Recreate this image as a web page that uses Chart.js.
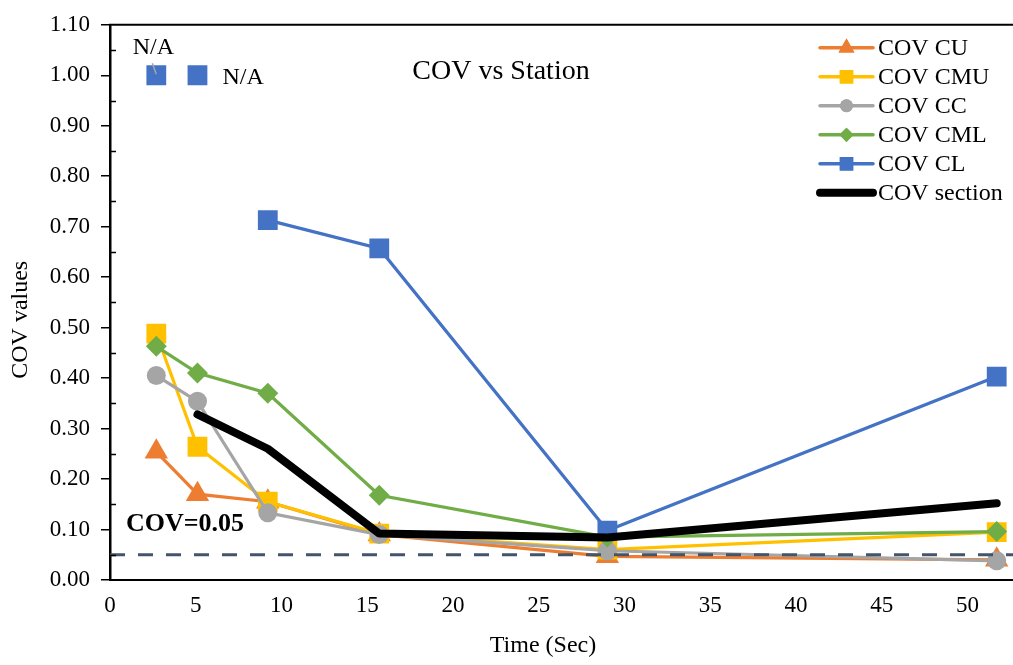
<!DOCTYPE html>
<html>
<head>
<meta charset="utf-8">
<title>COV vs Station</title>
<script src="https://cdn.jsdelivr.net/npm/chart.js@4/dist/chart.umd.min.js"></script>
<style>
  html, body { margin: 0; padding: 0; background: #fff; overflow: hidden; }
  #wrap { position: relative; width: 1013px; height: 665px; }
  #cov_chart { display: block; }
</style>
</head>
<body>
<div id="wrap"><canvas id="cov_chart" width="1013" height="665"></canvas></div>
<script>
// station times (sec) and COV per location
const times = [2.7, 5.1, 9.2, 15.7, 29, 51.7];
const covCU = [0.254, 0.170, 0.155, 0.090, 0.047, 0.040];
const covCMU = [0.488, 0.264, 0.155, 0.092, 0.060, 0.095];
const covCC = [0.405, 0.354, 0.133, 0.090, 0.058, 0.038];
const covCML = [0.463, 0.410, 0.370, 0.168, 0.085, 0.096];
const covCL = [null, null, 0.713, 0.657, 0.098, 0.403];
const covSection = [null, 0.328, 0.260, 0.092, 0.084, 0.152];

// CL readings that were not available, shown at 1.00
const naTimes = [2.7, 5.1];
const naValues = [1.0, 1.0];

const covLimit = 0.05;
const xMin = 0, xMax = 52.65, xStep = 5;
const yMin = 0, yMax = 1.1, yStep = 0.1;

const serif = "'Liberation Serif', 'Times New Roman', serif";

const pts = (vals) => times.map((t, i) => ({ x: t, y: vals[i] }));

const series = (label, vals, color, style, radius, order) => ({
    label,
    data: pts(vals),
    borderColor: color,
    backgroundColor: color,
    borderWidth: 3.2,
    pointStyle: style,
    pointRadius: radius,
    pointHoverRadius: radius,
    pointBorderWidth: 0,
    order,
    showInLegend: true,
});

const datasets = [
    series('COV CU', covCU, '#ED7D31', 'triangle', 13.5, 7),
    series('COV CMU', covCMU, '#FFC000', 'rect', 14, 6),
    series('COV CC', covCC, '#A5A5A5', 'circle', 9.5, 5),
    series('COV CML', covCML, '#70AD47', 'rectRot', 10.5, 4),
    series('COV CL', covCL, '#4472C4', 'rect', 14, 3),
    {
        label: 'COV section',
        data: pts(covSection),
        borderColor: '#000',
        backgroundColor: '#000',
        borderWidth: 8,
        borderJoinStyle: 'round',
        borderCapStyle: 'round',
        pointRadius: 0,
        order: 1,
        showInLegend: true,
    },
    {
        label: 'N/A',
        data: naTimes.map((t, i) => ({ x: t, y: naValues[i] })),
        showLine: false,
        backgroundColor: '#4472C4',
        borderColor: '#4472C4',
        pointStyle: 'rect',
        pointRadius: 14,
        pointBorderWidth: 0,
        order: 2,
    },
    {
        label: 'COV=0.05',
        data: [{ x: xMin, y: covLimit }, { x: xMax, y: covLimit }],
        borderColor: '#44546A',
        borderWidth: 3.2,
        borderDash: [15, 13],
        pointRadius: 0,
        order: 2,
    },
];

// frame, minor ticks, titles, notes and the line+marker legend
const decorations = {
    id: 'decorations',
    afterDraw(chart) {
        const { ctx, chartArea: area, scales: { y } } = chart;
        ctx.save();

        // top border of the plot
        ctx.strokeStyle = '#000';
        ctx.lineWidth = 2;
        ctx.beginPath();
        ctx.moveTo(area.left - 1, area.top);
        ctx.lineTo(area.right, area.top);
        ctx.stroke();

        // minor ticks on the value axis, pointing inwards
        ctx.lineWidth = 1.5;
        for (let v = yMin + yStep / 2; v < yMax; v += yStep) {
            const py = Math.round(y.getPixelForValue(v)) + 0.5;
            ctx.beginPath();
            ctx.moveTo(area.left, py);
            ctx.lineTo(area.left + 6, py);
            ctx.stroke();
        }

        ctx.fillStyle = '#000';
        ctx.textBaseline = 'middle';
        ctx.textAlign = 'center';

        // axis titles
        ctx.font = `24px ${serif}`;
        ctx.fillText('Time (Sec)', area.left + 433, area.bottom + 66);
        ctx.save();
        ctx.translate(21, area.top + 295);
        ctx.rotate(-Math.PI / 2);
        ctx.fillText('COV values', 0, 0);
        ctx.restore();

        // chart title
        ctx.font = `28px ${serif}`;
        ctx.fillText('COV vs Station', area.left + 391, area.top + 47);

        // limit note
        ctx.font = `bold 26px ${serif}`;
        ctx.textAlign = 'left';
        ctx.fillText('COV=0.05', area.left + 16, y.getPixelForValue(covLimit) - 30);

        // N/A labels on the missing CL points
        const naMeta = chart.getDatasetMeta(datasets.findIndex(d => d.label === 'N/A'));
        const p0 = naMeta.data[0], p1 = naMeta.data[1];
        ctx.font = `24px ${serif}`;
        ctx.textAlign = 'center';
        ctx.fillText('N/A', p0.x - 3, p0.y - 28);
        ctx.textAlign = 'left';
        ctx.fillText('N/A', p1.x + 25, p1.y + 2);
        ctx.strokeStyle = '#A5A5A5';
        ctx.lineWidth = 1.5;
        ctx.beginPath();
        ctx.moveTo(p0.x - 4, p0.y - 12);
        ctx.lineTo(p0.x, p0.y - 1);
        ctx.stroke();

        // legend
        const lx = area.right - 193, ly = area.top + 23, row = 29;
        ctx.font = `24px ${serif}`;
        datasets.filter(d => d.showInLegend).forEach((d, i) => {
            const cy = ly + i * row;
            ctx.strokeStyle = d.borderColor;
            ctx.lineWidth = d.pointRadius ? 3.5 : d.borderWidth;
            ctx.lineCap = 'round';
            ctx.beginPath();
            ctx.moveTo(lx, cy);
            ctx.lineTo(lx + 53, cy);
            ctx.stroke();
            if (d.pointRadius) {
                ctx.fillStyle = d.backgroundColor;
                Chart.helpers.drawPoint(ctx, {
                    pointStyle: d.pointStyle,
                    radius: d.pointRadius * 0.68,
                    rotation: 0,
                    borderWidth: 0,
                }, lx + 26.5, cy);
                ctx.fill();
            }
            ctx.fillStyle = '#000';
            ctx.textAlign = 'left';
            ctx.fillText(d.label, lx + 58, cy + 1);
        });

        ctx.restore();
    }
};

new Chart(document.getElementById('cov_chart').getContext('2d'), {
    type: 'line',
    data: { datasets },
    plugins: [decorations],
    options: {
        responsive: false,
        animation: false,
        events: [],
        layout: { autoPadding: false, padding: { top: 17, right: 0, bottom: 0, left: 0 } },
        plugins: {
            legend: { display: false },
            tooltip: { enabled: false },
            title: { display: false },
        },
        scales: {
            x: {
                type: 'linear',
                min: xMin,
                max: xMax,
                afterFit: (scale) => { scale.height = 85; },
                ticks: {
                    stepSize: xStep,
                    includeBounds: false,
                    color: '#000',
                    padding: 12,
                    font: { family: serif, size: 23 },
                },
                grid: { display: false, drawTicks: false },
                border: { display: true, color: '#000', width: 2 },
            },
            y: {
                min: yMin,
                max: yMax,
                afterFit: (scale) => { scale.width = 110; },
                ticks: {
                    stepSize: yStep,
                    color: '#000',
                    padding: 11,
                    font: { family: serif, size: 23 },
                    callback: (v) => Number(v).toFixed(2),
                },
                grid: {
                    drawOnChartArea: false,
                    drawTicks: true,
                    tickLength: 9,
                    color: '#000',
                    lineWidth: 1.5,
                },
                border: { display: true, color: '#000', width: 2.5 },
            },
        },
    },
});
</script>
</body>
</html>
